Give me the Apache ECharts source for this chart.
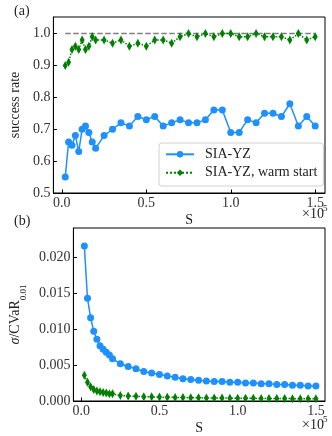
<!DOCTYPE html>
<html>
<head>
<meta charset="utf-8">
<script src="https://cdn.jsdelivr.net/npm/echarts@6/dist/echarts.min.js"></script>
<style>html,body{margin:0;padding:0;background:#fff}#c{width:332px;height:436px}</style>
</head>
<body>
<div id="c"></div>
<script>
const S = [2000,4000,6000,8000,10000,12000,14000,16000,18000,20000,
  25000,30000,35000,40000,45000,50000,55000,60000,65000,70000,75000,80000,85000,90000,95000,
  100000,105000,110000,115000,120000,125000,130000,135000,140000,145000,150000];
const successYZ = [0.55,0.66,0.65,0.68,0.63,0.70,0.71,0.69,0.66,0.64,
  0.68,0.70,0.72,0.71,0.74,0.73,0.74,0.71,0.72,0.73,0.72,0.72,0.73,0.76,0.76,
  0.69,0.69,0.73,0.72,0.75,0.75,0.74,0.78,0.71,0.74,0.71];
const successWarm = [0.90,0.91,0.95,0.96,0.95,0.98,0.95,0.96,0.99,0.98,
  0.98,0.97,0.98,0.96,0.97,0.96,0.98,0.98,0.97,0.99,1.00,0.99,1.00,0.99,1.00,
  1.00,0.99,0.99,1.00,0.99,0.99,0.99,0.98,1.00,0.98,0.99];
const ratioYZ = [0.0216,0.0143,0.0116,0.0097,0.0086,0.0077,0.0072,0.0068,0.0064,0.0059,
  0.0052,0.0048,0.0045,0.0041,0.0039,0.0037,0.0035,0.0033,0.0031,0.0030,0.0029,0.0028,0.0027,0.0027,0.0026,
  0.0026,0.0025,0.0025,0.0024,0.0024,0.0023,0.0023,0.0022,0.0022,0.0021,0.0021];
const ratioWarm = [0.0036,0.0026,0.0020,0.0016,0.0014,0.0013,0.0012,0.0011,0.0010,0.0010,
  0.00075,0.0007,0.00065,0.0006,0.00058,0.00055,0.00052,0.0005,0.00048,0.00046,0.00044,0.00043,0.00042,0.00041,0.0004,
  0.00039,0.00038,0.00037,0.00036,0.00035,0.00034,0.00034,0.00033,0.00032,0.00032,0.00031];
const refLine = [[2000,1.0],[150000,1.0]];
const xTicks = [0, 50000, 100000, 150000];
const yTicksTop = [0.5,0.6,0.7,0.8,0.9,1.0];
const yTicksBottom = [0,0.005,0.01,0.015,0.02];

const FONT = 'Liberation Serif';
const BLUE = '#1e90ff', GREEN = '#008000';
const zip = (xs, ys) => xs.map((x,i)=>[x, ys[i]]);

function xAxis(gi){
  return {
    type:'value', gridIndex:gi, min:-5000, max:155800,
    name:'S', nameLocation:'middle', nameGap:20,
    nameTextStyle:{fontFamily:FONT,fontSize:14,color:'#222'},
    axisLine:{show:true,onZero:false,lineStyle:{color:'#000',width:1}},
    axisTick:{show:true,inside:true,length:3.5,customValues:xTicks,lineStyle:{color:'#000'}},
    axisLabel:{customValues:xTicks,margin:3,fontFamily:FONT,fontSize:14,color:'#333',
      formatter:v=>(v/1e5).toFixed(1)},
    splitLine:{show:false}
  };
}
function yAxis(gi, min, max, ticks, dec, name, gap){
  return {
    type:'value', gridIndex:gi, min:min, max:max,
    name:name, nameLocation:'middle', nameGap:gap,
    nameTextStyle:{fontFamily:FONT,fontSize:14,color:'#222',
      rich:{i:{fontFamily:FONT,fontStyle:'italic',fontSize:14,color:'#222'},
            sub:{fontFamily:FONT,fontSize:9,color:'#222',verticalAlign:'bottom',padding:[0,0,-6,0]}}},
    axisLine:{show:true,onZero:false,lineStyle:{color:'#000',width:1}},
    axisTick:{show:true,inside:true,length:3.5,customValues:ticks,lineStyle:{color:'#000'}},
    axisLabel:{customValues:ticks,margin:3,fontFamily:FONT,fontSize:14,color:'#333',
      formatter:v=>v.toFixed(dec)},
    splitLine:{show:false}
  };
}
function tenPow(topY){
  return [
    {type:'text',left:302,top:topY,style:{text:'×10',font:'14px "Liberation Serif"',fill:'#222'}},
    {type:'text',left:323,top:topY-3,style:{text:'5',font:'9px "Liberation Serif"',fill:'#222'}}
  ];
}

const chart = echarts.init(document.getElementById('c'), null, {renderer:'canvas'});
chart.setOption({
  animation:false,
  backgroundColor:'#fff',
  grid:[
    {left:50, right:7, top:17, height:176, show:true, borderColor:'#000', borderWidth:1},
    {left:50, right:7, top:228, height:175, show:true, borderColor:'#000', borderWidth:1}
  ],
  xAxis:[xAxis(0), xAxis(1)],
  yAxis:[
    yAxis(0, 0.5, 1.052, yTicksTop, 1, 'success rate', 26),
    yAxis(1, 0, 0.0241, yTicksBottom, 3, '{i|σ}/CVaR{sub|0.01}', 36)
  ],
  legend:{
    data:['SIA-YZ','SIA-YZ, warm start'],
    orient:'vertical', left:159, top:143,
    padding:[4.3,6,6.3,6], itemGap:4.4, itemWidth:28, itemHeight:8,
    backgroundColor:'rgba(255,255,255,0.8)', borderColor:'#d0d0d0', borderWidth:1, borderRadius:3,
    textStyle:{fontFamily:FONT,fontSize:14,color:'#222',padding:[0,0,0,6]}
  },
  graphic:[
    {type:'text',left:14,top:4,style:{text:'(a)',font:'14px "Liberation Serif"',fill:'#222'}},
    {type:'text',left:14,top:214,style:{text:'(b)',font:'14px "Liberation Serif"',fill:'#222'}}
  ].concat(tenPow(207), tenPow(418)),
  series:[
    {name:'ref',type:'line',xAxisIndex:0,yAxisIndex:0,data:refLine,showSymbol:false,symbol:'none',
      lineStyle:{color:'#7f7f7f',width:1.5,type:[5.5,2.5]},z:1,silent:true},
    {name:'SIA-YZ',type:'line',xAxisIndex:0,yAxisIndex:0,data:zip(S,successYZ),
      symbol:'circle',symbolSize:7,itemStyle:{color:BLUE},lineStyle:{color:BLUE,width:1.5},z:3},
    {name:'SIA-YZ, warm start',type:'line',xAxisIndex:0,yAxisIndex:0,data:zip(S,successWarm),
      symbol:'diamond',symbolSize:[5,9],itemStyle:{color:GREEN},lineStyle:{color:GREEN,width:1.5,type:'dotted'},z:2},
    {name:'SIA-YZ',type:'line',xAxisIndex:1,yAxisIndex:1,data:zip(S,ratioYZ),
      symbol:'circle',symbolSize:7,itemStyle:{color:BLUE},lineStyle:{color:BLUE,width:1.5},z:3},
    {name:'SIA-YZ, warm start',type:'line',xAxisIndex:1,yAxisIndex:1,data:zip(S,ratioWarm),
      symbol:'diamond',symbolSize:[5,9],itemStyle:{color:GREEN},lineStyle:{color:GREEN,width:1.5,type:'dotted'},z:2}
  ]
});
</script>
</body>
</html>
